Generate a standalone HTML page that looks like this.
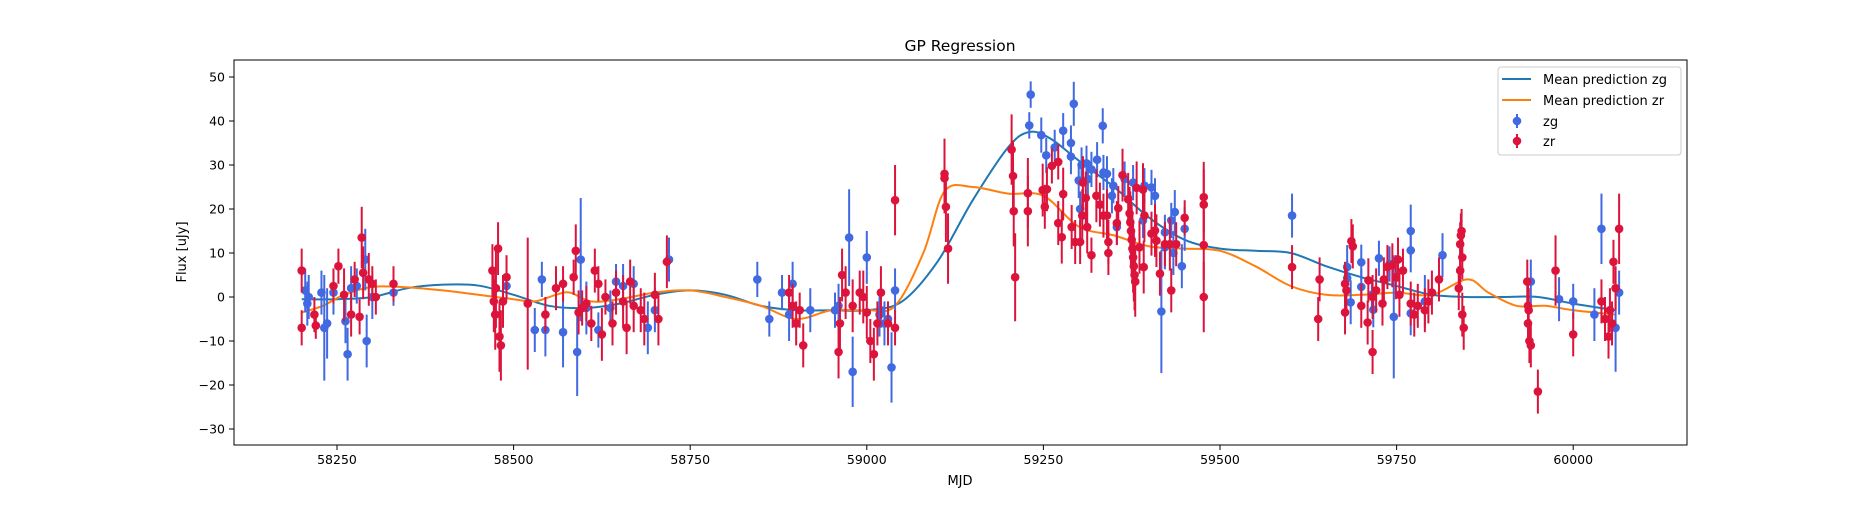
<!DOCTYPE html>
<html><head><meta charset="utf-8"><style>
body{margin:0;background:#fff;}
svg text{font-family:"DejaVu Sans","Liberation Sans",sans-serif;fill:#000;}
</style></head><body>
<svg id="chart" width="1875" height="500" xmlns="http://www.w3.org/2000/svg">
<rect width="1875" height="500" fill="#fff"/>
<g id="grid"></g>
<g id="curves"></g>
<g id="zgpts"></g>
<g id="zrpts"></g>
<rect x="234" y="60" width="1453" height="385" fill="none" stroke="#000" stroke-width="1"/>
<g id="axes"></g>
<text x="960" y="51" font-size="15.5" text-anchor="middle">GP Regression</text>
<text x="960" y="485" font-size="13" text-anchor="middle">MJD</text>
<text x="0" y="0" font-size="13" text-anchor="middle" transform="translate(186,252) rotate(-90)">Flux [uJy]</text>
<g>
<rect x="1498" y="67" width="183" height="88" rx="3" fill="#fff" fill-opacity="0.8" stroke="#ccc"/>
<g><line x1="1502" y1="79" x2="1531" y2="79" stroke="#1f77b4" stroke-width="2"/><text x="1543" y="84" font-size="13">Mean prediction zg</text></g>
<g><line x1="1502" y1="100" x2="1531" y2="100" stroke="#ff7f0e" stroke-width="2"/><text x="1543" y="105" font-size="13">Mean prediction zr</text></g>
<g><line x1="1517" y1="114" x2="1517" y2="128" stroke="#4169e1" stroke-width="2"/><circle cx="1517" cy="121" r="4.3" fill="#4169e1"/><text x="1543" y="126" font-size="13">zg</text></g>
<g><line x1="1517" y1="134" x2="1517" y2="148" stroke="#dc143c" stroke-width="2"/><circle cx="1517" cy="141" r="4.3" fill="#dc143c"/><text x="1543" y="146" font-size="13">zr</text></g>
</g>
</svg>
<script>
const xTicks=[58250,58500,58750,59000,59250,59500,59750,60000];
const yTicks=[-30,-20,-10,0,10,20,30,40,50];
const zgMJD=[58205,58208,58210,58228,58232,58236,58245,58262,58265,58270,58278,58290,58292,58300,58330,58490,58530,58540,58545,58570,58590,58595,58603,58620,58637,58645,58655,58670,58690,58700,58720,58845,58862,58880,58890,58895,58920,58955,58960,58975,58980,59000,59018,59020,59025,59030,59035,59040,59232,59230,59247,59278,59293,59334,59266,59254,59289,59289,59304,59311,59318,59326,59313,59335,59340,59349,59347,59365,59377,59393,59403,59408,59300,59302,59354,59391,59422,59431,59436,59450,59422,59434,59446,59417,59602,59680,59680,59685,59700,59700,59725,59715,59717,59740,59746,59770,59770,59770,59790,59815,59940,59980,60000,60030,60040,60060,60065];
const zgFlux=[1.5,-1.5,0,1,-7,-6,1,-5.5,-13,2,2.5,8.5,-10,0,1,2.5,-7.5,4,-7.5,-8,-12.5,8.5,-2.5,-7.5,-2.5,3.5,2.5,3,-7,-3,8.5,4,-5,1,-4,3,-3,-3,-2,13.5,-17,9,-4,-3,-6,-5,-16,1.5,46,39,36.8,37.8,43.9,38.9,34,32.2,35,31.9,30,30.4,29,31.2,26.8,28.3,28,25.3,23,26.8,26,25.3,24.9,23,26.5,20,15.9,17.4,14.7,17.4,19.3,15.5,11.3,10,7,-3.3,18.5,6.8,4.3,-1.2,7.9,2.3,8.8,0.5,-2.9,7.5,-4.5,15,10.6,-3.7,-1,9.5,3.5,-0.5,-1,-4,15.5,-7,1];
const zgErr=[5,5,5,5,12,8,5,5,6,5,4,7,6,5,3,3,5,4,6,8,10,14,6,4,4,4,5,4,6,5,5,4,4,4,6,5,5,4,5,11,8,6,5,4,5,4,8,5,3,3,4,4,5,4,4,4,4,4,4,4,4,4,4,4,4,4,4,4,4,4,4,4,4,4,4,4,4,4,5,5,5,5,5,14,5,5,4,5,4,4,4,4,4,4,14,6,5,5,6,5,5,5,4,6,8,10,5];
const zrMJD=[58200,58200,58220,58218,58245,58252,58260,58270,58275,58282,58285,58287,58295,58300,58305,58330,58470,58472,58474,58475,58478,58480,58482,58485,58490,58520,58545,58560,58570,58585,58588,58592,58597,58603,58610,58615,58620,58625,58630,58640,58645,58655,58660,58665,58670,58680,58685,58700,58705,58717,58890,58895,58900,58905,58910,58960,58962,58965,58970,58980,58990,58995,59000,59005,59010,59015,59020,59030,59040,59040,59110,59110,59112,59115,59205,59207,59208,59210,59228,59228,59249,59252,59255,59262,59271,59278,59271,59276,59290,59295,59302,59306,59310,59312,59305,59318,59325,59330,59335,59340,59342,59342,59354,59356,59362,59370,59372,59373,59374,59375,59376,59377,59378,59379,59380,59382,59391,59393,59386,59392,59403,59408,59410,59415,59422,59429,59431,59438,59450,59477,59477,59477,59477,59602,59641,59639,59677,59677,59686,59688,59679,59700,59709,59710,59716,59716,59721,59730,59732,59737,59744,59749,59752,59754,59759,59770,59775,59780,59790,59795,59800,59810,59840,59842,59841,59843,59840,59843,59845,59838,59935,59937,59936,59938,59940,59936,59950,59975,60000,60040,60045,60050,60055,60057,60060,60065,60052];
const zrFlux=[6,-7,-6.5,-4,2.5,7,0.5,-4,4,-4.5,13.5,5.5,4,3,0,3,6,-1,-4,2,11,-9,-11,-1,4.5,-1.5,-4,2,3,4.5,10.5,-3.5,-2.5,-1.5,-6,6,3,-8.5,0,-6,1,-1,-7,3.5,-2,-3,-5,0.5,-5,8,1,-2,-6,-3,-11,-12.5,-6,5,1,-2,1,0,-3.5,-10,-13,-6,1,-6,22,-7,28,27,20.5,11,33.5,27.5,19.5,4.5,23.6,19.5,24.3,20.5,24.5,29.8,30.7,23.4,16.8,13.6,15.9,12.5,12.5,26,22.5,15.9,18.5,9.5,23,21,18.5,18.5,12.5,10,16.8,20.2,27.7,22.2,19,17,15,13,11,9,7,5,3.5,24.8,24.4,18.5,11.3,6.8,14.4,15.1,12.8,5.3,12,12,1.5,12,18,22.7,21,11.8,0,6.8,4,-5,3,-3.5,12.7,11.5,1.5,-2,-5.8,3.8,-12.5,0,1.5,-1.5,4,6.8,7.2,4.5,8.5,0.5,6,-1.5,-4,-2,-3,-1,1,4,12,15,14,9,6,-4,-7,2,3.5,-3,-6,-10,-11,-2,-21.5,6,-8.5,-1,-5,-9,-6,8,2,15.5,-3];
const zrErr=[5,4,3,4,4,4,6,5,4,4,7,6,6,4,4,4,6,7,8,9,6,8,8,6,5,15,4,5,4,4,6,5,4,4,4,5,4,6,4,5,5,6,6,5,6,5,6,5,6,6,4,5,5,4,5,6,6,6,6,6,5,6,6,5,6,5,6,5,8,4,8,8,8,8,8,8,8,10,8,8,6,5,5,4,4,6,5,6,5,5,5,6,6,6,6,4,6,5,5,6,5,5,5,5,6,6,6,7,8,8,8,8,8,8,8,6,6,6,6,6,5,6,6,5,5,6,5,5,4,8,8,8,8,5,5,5,5,5,5,5,5,5,5,5,5,5,5,5,5,5,5,5,5,5,5,5,5,5,5,5,5,5,5,5,5,5,5,5,5,5,5,5,5,5,5,5,5,8,5,5,5,5,5,5,5,8,5];
const zgCurveMJD=[58200,58250,58300,58350,58400,58450,58500,58550,58600,58650,58700,58750,58800,58850,58900,58950,59000,59050,59100,59150,59200,59230,59260,59300,59350,59400,59450,59500,59550,59600,59650,59700,59750,59800,59850,59900,59950,60000,60060];
const zgCurve=[-0.5,-0.5,0,2,2.8,2.6,0.5,-2,-2.5,-1.5,0.5,1.5,0.5,-2,-3,-3,-3,-1,8,22,34,37.5,36,31,25,18,13,11,10.5,10,7,4.5,2.5,0.5,0,0,0,-1.5,-3];
const zrCurveMJD=[58200,58230,58260,58300,58350,58400,58450,58500,58530,58560,58580,58610,58650,58700,58750,58800,58850,58900,58950,59000,59040,59080,59110,59150,59200,59250,59300,59350,59400,59450,59500,59550,59600,59650,59700,59750,59800,59850,59880,59920,59960,60000,60060];
const zrCurve=[-3.5,-2,0.5,2.3,2.2,1.5,0.5,-0.5,-1,0.5,1,-1,-0.5,1,1.5,0,-2,-5,-3,-3,-2,10,24,25,23.5,23,16,14,11.5,11,10.5,7,2.5,0.5,0.5,1,0.5,4,1,-2,-2,-3,-4];

const X=v=>337+(v-58250)*176.6/250;
const Y=v=>297-v*4.4;
const NS='http://www.w3.org/2000/svg';
function mk(tag,attrs,parent){const e=document.createElementNS(NS,tag);for(const k in attrs)e.setAttribute(k,attrs[k]);parent.appendChild(e);return e;}
const axes=document.getElementById('axes');
xTicks.forEach(t=>{
  const g=mk('g',{},axes);
  
  
  mk('line',{x1:X(t),x2:X(t),y1:445,y2:450,stroke:'#000'},g);
  const tx=mk('text',{x:X(t),y:464,'font-size':12.5,'text-anchor':'middle'},g);tx.textContent=t;
});
yTicks.forEach(t=>{
  const g=mk('g',{},axes);
  
  
  mk('line',{x1:229,x2:234,y1:Y(t),y2:Y(t),stroke:'#000'},g);
  const tx=mk('text',{x:225,y:Y(t)+4.5,'font-size':12.5,'text-anchor':'end'},g);tx.textContent=t<0?'\u2212'+(-t):t;
});
function curve(xs,ys,color,name){
  const p=xs.map((x,i)=>[X(x),Y(ys[i])]);
  let d='M'+p[0][0]+','+p[0][1];
  for(let i=0;i<p.length-1;i++){
    const p0=p[Math.max(0,i-1)],p1=p[i],p2=p[i+1],p3=p[Math.min(p.length-1,i+2)];
    const c1=[p1[0]+(p2[0]-p0[0])/6,p1[1]+(p2[1]-p0[1])/6],c2=[p2[0]-(p3[0]-p1[0])/6,p2[1]-(p3[1]-p1[1])/6];
    d+=' C'+c1+' '+c2+' '+p2;
  }
  const path=mk('path',{d:d,fill:'none',stroke:color,'stroke-width':2},document.getElementById('curves'));
  
  
}
curve(zgCurveMJD,zgCurve,'#1f77b4','mean-prediction-zg');
curve(zrCurveMJD,zrCurve,'#ff7f0e','mean-prediction-zr');
function pts(xs,ys,es,color,gid,name){
  const par=document.getElementById(gid);
  xs.forEach((x,i)=>{
    const g=mk('g',{},par);
    
    
    mk('line',{x1:X(x),x2:X(x),y1:Y(ys[i]-es[i]),y2:Y(ys[i]+es[i]),stroke:color,'stroke-width':2},g);
    mk('circle',{cx:X(x),cy:Y(ys[i]),r:4.3,fill:color},g);
  });
}
pts(zgMJD,zgFlux,zgErr,'#4169e1','zgpts','zg-point');
pts(zrMJD,zrFlux,zrErr,'#dc143c','zrpts','zr-point');
</script>
</body></html>
